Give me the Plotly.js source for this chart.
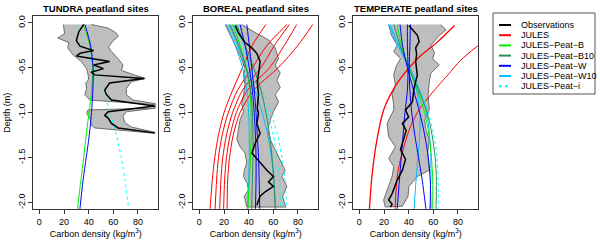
<!DOCTYPE html>
<html><head><meta charset="utf-8">
<script src="https://cdn.plot.ly/plotly-3.0.1.min.js"></script>
<style>html,body{margin:0;padding:0;background:#fff}</style>
</head><body><div id="chart" style="width:600px;height:242px"></div>
<script>
// ---------- common ----------
const panelTitles = ['TUNDRA peatland sites', 'BOREAL peatland sites', 'TEMPERATE peatland sites'];
const xTitle = 'Carbon density (kg/m<sup>3</sup>)';
const yTitle = 'Depth (m)';
const xTickVals = [0, 20, 40, 60, 80];
const yTickVals = [0, -0.5, -1, -1.5, -2];
const yTickText = ['0.0', '-0.5', '-1.0', '-1.5', '-2.0'];
const modelDepth = [-0.02, -0.25, -0.5, -0.75, -1.0, -1.25, -1.5, -1.75, -2.07];

const legendNames = ['Observations', 'JULES', 'JULES\u2212Peat\u2212B', 'JULES\u2212Peat\u2212B10', 'JULES\u2212Peat\u2212W', 'JULES\u2212Peat\u2212W10', 'JULES\u2212Peat\u2212i'];

// ---------- TUNDRA ----------
const tunBandLeftD = [-0.02, -0.12, -0.17, -0.22, -0.28, -0.36, -0.43, -0.51, -0.58, -0.63, -0.67, -0.73, -0.80, -0.86, -0.91, -0.95, -0.97, -1.01, -1.06, -1.14, -1.17, -1.23];
const tunBandLeftC = [19.5, 20.5, 14.9, 24, 23, 27.5, 34, 38.3, 39.6, 40, 37.7, 38.3, 36.9, 41, 93, 93, 39.6, 38.3, 41, 42.3, 45, 93.5];
const tunBandRightD = [-0.02, -0.06, -0.11, -0.15, -0.20, -0.27, -0.32, -0.40, -0.47, -0.53, -0.58, -0.62, -0.655, -0.73, -0.80, -0.86, -0.90, -0.95, -0.99, -1.04, -1.11, -1.16, -1.22];
const tunBandRightC = [42.3, 55.8, 62, 64, 60, 56, 58.5, 63.9, 67.9, 66.5, 77, 86, 74.7, 70.6, 70.6, 76, 94, 94, 70.6, 67.9, 69.3, 74.7, 94];
const tunObsD = [-0.02, -0.10, -0.20, -0.26, -0.31, -0.34, -0.37, -0.43, -0.47, -0.51, -0.55, -0.58, -0.62, -0.67, -0.75, -0.80, -0.86, -0.925, -0.99, -1.03, -1.06, -1.12, -1.17, -1.225];
const tunObsC = [36, 32, 30, 33, 44, 33, 30, 57, 44, 52, 42, 45, 85, 57, 53, 54.5, 58.5, 93.5, 55.8, 53, 55.8, 58.5, 64, 93.5];
const tunPeatB = [35.5, 41, 43.3, 42.5, 40.3, 38, 36, 33.7, 31];
const tunPeatW = [37, 41.5, 43.6, 43.4, 42.3, 40.5, 38, 35.5, 32.9];
const tunPeatI = [30.5, 36.5, 44, 51.5, 57.5, 62.5, 66.5, 69.5, 72.5];

// ---------- BOREAL ----------
const borBandLeftD = [-0.02, -0.10, -0.21, -0.36, -0.51, -0.58, -0.69, -0.80, -0.91, -0.99, -1.08, -1.19, -1.30, -1.38, -1.45, -1.56, -1.64, -1.71, -1.79, -1.86, -1.93, -1.97, -2.05];
const borBandLeftC = [21, 24, 27.6, 33, 37.1, 35.8, 37.1, 35.8, 34.4, 35.8, 33, 31.7, 30.4, 33, 37.1, 38.5, 36.5, 35.8, 39, 39.8, 36.5, 37.1, 38.5];
const borBandRightD = [-0.02, -0.12, -0.19, -0.28, -0.40, -0.47, -0.56, -0.64, -0.72, -0.80, -0.88, -0.99, -1.08, -1.19, -1.30, -1.41, -1.52, -1.64, -1.71, -1.82, -1.93, -2.05];
const borBandRightC = [34.4, 46.6, 56.1, 61.5, 64.2, 61.5, 65.6, 62.9, 65.6, 61.5, 64.2, 60.1, 57.5, 55.5, 57.5, 61.5, 65.6, 69.6, 67, 71, 67.6, 70];
const borObsD = [-0.03, -0.12, -0.22, -0.28, -0.34, -0.43, -0.52, -0.66, -0.80, -0.95, -1.01, -1.12, -1.23, -1.34, -1.45, -1.56, -1.64, -1.71, -1.77, -1.82, -1.88, -1.93, -2.03];
const borObsC = [29, 32, 37, 42.6, 46.6, 49.3, 48.5, 47, 48, 47, 48, 46.6, 49.3, 45.3, 42.6, 49.3, 54.8, 60.1, 56.1, 60.1, 53.4, 49.3, 46.6];
const borJules1 = [54, 43, 35, 27, 20, 15.5, 12.5, 10.5, 8.7];
const borJules2 = [71, 55, 43, 31, 23.5, 18.5, 15.5, 14, 12.8];
const borJules3 = [73, 61, 50, 35, 27, 22, 19, 17.5, 16.5];
const borJules4 = [79, 69, 57, 39, 30, 25, 22, 20.5, 19.7];
const borJules5 = [92, 80, 64, 44, 33, 27.5, 24.5, 23, 22.5];
const borPeatB = [27, 33, 38, 41, 42, 42, 41.5, 40.5, 39.5];
const borPeatB10a = [30, 37, 44, 50, 54, 57, 59, 60.5, 61.5];
const borPeatB10b = [25, 32, 38, 41.5, 43, 43.5, 43.5, 43, 42.5];
const borPeatWa = [38.5, 40.5, 42.5, 44.5, 46, 47, 48, 48.5, 49];
const borPeatWb = [33, 37, 40.5, 43, 44.5, 45.5, 46, 46, 45.5];
const borPeatW10a = [24, 31, 38, 45, 51, 55.5, 58.5, 60.5, 62];
const borPeatW10b = [22, 29, 35, 38.5, 40, 40.5, 40.5, 40, 39];
const borPeatIa = [28, 33, 40, 48, 55, 60, 63, 65, 66];
const borPeatIb = [31, 35, 43, 51, 58, 63.5, 67, 69.5, 71];

// ---------- TEMPERATE ----------
const temBandLeftD = [-0.02, -0.14, -0.25, -0.32, -0.40, -0.48, -0.58, -0.69, -0.80, -0.91, -0.97, -1.12, -1.27, -1.38, -1.51, -1.60, -1.71, -1.86, -1.97, -2.05];
const temBandLeftC = [23.8, 26, 30.7, 27.9, 33.4, 30, 27.9, 29.3, 26.6, 27.9, 27.9, 22.5, 23.8, 29.3, 23.8, 27.9, 26.6, 22.5, 19.7, 21];
const temBandRightD = [-0.02, -0.08, -0.14, -0.25, -0.33, -0.40, -0.47, -0.56, -0.66, -0.80, -0.97, -1.08, -1.19, -1.30, -1.45, -1.64, -1.71, -1.82, -1.93, -2.04];
const temBandRightC = [66, 70.4, 64.9, 58, 61, 59.5, 64.9, 58, 56.7, 55.8, 56.7, 53, 54, 56.7, 55.4, 56.7, 47.1, 40.2, 39.5, 35];
const temObsD = [-0.03, -0.14, -0.21, -0.28, -0.35, -0.43, -0.58, -0.73, -0.88, -0.97, -1.05, -1.12, -1.20, -1.30, -1.41, -1.52, -1.64, -1.75, -1.90, -1.97, -2.02, -2.05];
const temObsC = [40.2, 47.1, 48.5, 45.7, 46.5, 45.7, 47, 44.4, 43, 37.5, 40, 34.9, 38, 36.1, 33.4, 37.5, 34.9, 30.7, 26.6, 23.8, 26.6, 25.2];
const temJules1D = [-0.03, -0.21, -0.40, -0.62, -0.80, -0.97, -1.30, -1.71, -2.07];
const temJules1C = [77.2, 63.6, 47.1, 33.4, 25.2, 19.7, 14.3, 10.2, 8.2];
const temJules2D = [-0.10, -0.27, -0.42, -0.58, -0.84, -1.0, -1.19, -1.52, -1.71, -2.07];
const temJules2C = [115, 95, 82, 71.8, 55.4, 47, 40.5, 33.4, 30.7, 29];
const temPeatB = [30.7, 34, 40, 47, 53, 56.5, 58.5, 59.5, 59.5];
const temPeatB10 = [28, 33, 40, 48, 55, 59, 61.5, 62.5, 62.2];
const temPeatW1 = [39, 39, 39.5, 39, 37, 35.5, 34, 32.5, 30.7];
const temPeatW2 = [41.5, 41, 40.5, 41, 42.5, 45, 48, 51, 54];
const temPeatW3 = [33, 35, 39, 44, 49, 53, 56, 57.5, 58];
const temPeatW10a = [24, 31, 40, 46.5, 49, 49, 47.5, 46, 44.4];
const temPeatW10b = [25, 32, 41, 49, 54.5, 57, 58, 58, 57];
const temPeatI = [23.5, 31, 40.5, 49, 56, 60.5, 63, 64, 64];

// ---------- styles ----------
const COL = {obs: '#000000', jules: '#ff0000', B: '#00ee00', B10: '#2e8b57', W: '#0000ff', W10: '#00bfff', I: '#00ffff'};
const legendColors = [COL.obs, COL.jules, COL.B, COL.B10, COL.W, COL.W10, COL.I];
const legendDash = ['solid', 'solid', 'solid', 'solid', 'solid', 'solid', '3px,3px'];

const traces = [];
function band(lD, lC, rD, rC, ax) {
  traces.push({x: lC.concat(rC.slice().reverse()), y: lD.concat(rD.slice().reverse()),
    xaxis: 'x' + ax, yaxis: 'y' + ax, mode: 'lines', fill: 'toself', fillcolor: '#bebebe',
    line: {color: '#6e6e6e', width: 1}, showlegend: false, hoverinfo: 'skip'});
}
function line(xs, ys, ax, color, width, dash, shape) {
  traces.push({x: xs, y: ys, xaxis: 'x' + ax, yaxis: 'y' + ax, mode: 'lines',
    line: {color: color, width: width, dash: dash || 'solid', shape: shape || 'linear', smoothing: 0.8},
    showlegend: false});
}
const DASH = '3px,3px';
// tundra
band(tunBandLeftD, tunBandLeftC, tunBandRightD, tunBandRightC, '');
line(tunPeatI, modelDepth, '', COL.I, 1, DASH, 'spline');
line(tunPeatB, modelDepth, '', COL.B, 1, null, 'spline');
line(tunPeatW, modelDepth, '', COL.W, 1, null, 'spline');
line(tunObsC, tunObsD, '', COL.obs, 1.5);
// boreal
band(borBandLeftD, borBandLeftC, borBandRightD, borBandRightC, '2');
[borJules1, borJules2, borJules3, borJules4, borJules5].forEach(a => line(a, modelDepth, '2', COL.jules, 1, null, 'spline'));
line(borPeatIa, modelDepth, '2', COL.I, 1, DASH, 'spline');
line(borPeatIb, modelDepth, '2', COL.I, 1, DASH, 'spline');
line(borPeatW10a, modelDepth, '2', COL.W10, 1, null, 'spline');
line(borPeatW10b, modelDepth, '2', COL.W10, 1, null, 'spline');
line(borPeatB, modelDepth, '2', COL.B, 1, null, 'spline');
line(borPeatB10a, modelDepth, '2', COL.B10, 1, null, 'spline');
line(borPeatB10b, modelDepth, '2', COL.B10, 1, null, 'spline');
line(borPeatWa, modelDepth, '2', COL.W, 1, null, 'spline');
line(borPeatWb, modelDepth, '2', COL.W, 1, null, 'spline');
line(borObsC, borObsD, '2', COL.obs, 1.5);
// temperate
band(temBandLeftD, temBandLeftC, temBandRightD, temBandRightC, '3');
line(temJules1C, temJules1D, '3', COL.jules, 1.3, null, 'spline');
line(temJules2C, temJules2D, '3', COL.jules, 1, null, 'spline');
line(temPeatI, modelDepth, '3', COL.I, 1, DASH, 'spline');
line(temPeatW10a, modelDepth, '3', COL.W10, 1, null, 'spline');
line(temPeatW10b, modelDepth, '3', COL.W10, 1, null, 'spline');
line(temPeatB, modelDepth, '3', COL.B, 1, null, 'spline');
line(temPeatB10, modelDepth, '3', COL.B10, 1, null, 'spline');
line(temPeatW1, modelDepth, '3', COL.W, 1, null, 'spline');
line(temPeatW2, modelDepth, '3', COL.W, 1, null, 'spline');
line(temPeatW3, modelDepth, '3', COL.W, 1, null, 'spline');
line(temObsC, temObsD, '3', COL.obs, 1.5);

// ---------- layout ----------
const W = 600, H = 242;
const FONT = 'Liberation Sans, Arial, Helvetica, sans-serif';
const panelLeft = [33.3, 193.3, 353.3], panelW = 125, plotTop = 16, plotBot = 209.3;
const layout = {width: W, height: H, margin: {l: 0, r: 0, t: 0, b: 0},
  paper_bgcolor: '#fff', plot_bgcolor: '#fff', showlegend: false,
  font: {family: FONT, size: 9, color: '#000'}, annotations: [], shapes: []};
['', '2', '3'].forEach((s, i) => {
  layout['xaxis' + s] = {domain: [panelLeft[i] / W, (panelLeft[i] + panelW) / W], range: [-4.9, 96.5],
    anchor: 'y' + s, tickvals: xTickVals, ticks: 'outside', ticklen: 4, tickcolor: '#333',
    showline: true, mirror: true, linecolor: '#333', linewidth: 1, showgrid: false, zeroline: false,
    tickfont: {size: 9, family: FONT}, fixedrange: true,
    title: {text: xTitle, standoff: 3, font: {size: 9, family: FONT}}};
  layout['yaxis' + s] = {domain: [1 - plotBot / H, 1 - plotTop / H], range: [-2.075, 0.075],
    anchor: 'x' + s, tickvals: yTickVals, ticktext: yTickText, tickangle: -90, ticks: 'outside', ticklen: 4,
    tickcolor: '#333', showline: true, mirror: true, linecolor: '#333', linewidth: 1, showgrid: false,
    zeroline: false, tickfont: {size: 9, family: FONT}, fixedrange: true,
    title: {text: yTitle, standoff: 4, font: {size: 9, family: FONT}}};
  const cx = (panelLeft[i] + panelW / 2) / W;
  layout.annotations.push({text: panelTitles[i], x: cx, y: 1 - 8.3 / H, xref: 'paper', yref: 'paper',
    showarrow: false, xanchor: 'center', yanchor: 'middle', font: {size: 9.5, weight: 'bold', family: FONT}});
});
// legend box
layout.shapes.push({type: 'rect', xref: 'paper', yref: 'paper', x0: 493 / W, x1: 595 / W, y0: 1 - 94 / H, y1: 1 - 13 / H,
  line: {color: '#555', width: 1}, fillcolor: 'rgba(0,0,0,0)'});
legendNames.forEach((nm, i) => {
  const yy = 1 - (25 + 10.2 * i) / H;
  layout.shapes.push({type: 'line', xref: 'paper', yref: 'paper', x0: 499 / W, x1: 511 / W, y0: yy, y1: yy,
    line: {color: legendColors[i], width: 2, dash: legendDash[i]}});
  layout.annotations.push({text: nm, x: 519 / W, y: yy, xref: 'paper', yref: 'paper', showarrow: false,
    xanchor: 'left', yanchor: 'middle', font: {size: 9, family: FONT}});
});
Plotly.newPlot('chart', traces, layout, {staticPlot: true, displayModeBar: false});
</script></body></html>
